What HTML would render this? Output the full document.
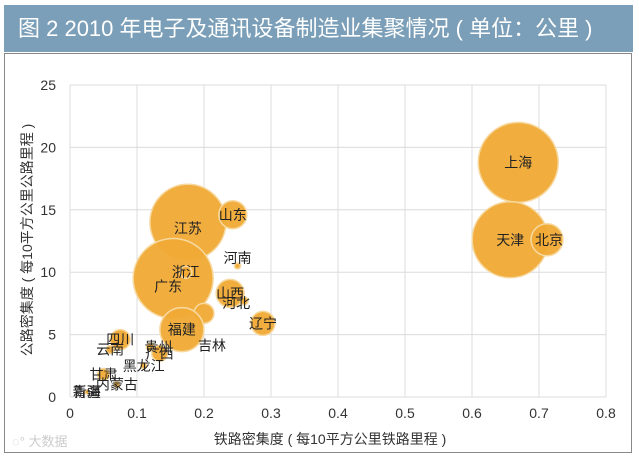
<!DOCTYPE html>
<html><head><meta charset="utf-8"><style>
body{margin:0;width:639px;height:456px;background:#fff;font-family:"Liberation Sans","Noto Sans CJK SC",sans-serif;overflow:hidden}
#hdr{position:absolute;left:4px;top:5px;width:629px;height:47px;background:#7b9fb8;color:#fff;font-size:22px;line-height:47px;padding-left:14px;box-sizing:border-box}
#box{position:absolute;left:4px;top:53px;width:628px;height:400px;border:1px solid #888;box-sizing:border-box}
svg{position:absolute;left:0;top:0}
</style></head><body>
<div id="hdr">图 2  2010 年电子及通讯设备制造业集聚情况 ( 单位：公里 )</div>
<div id="box"></div>
<svg id="c" width="639" height="456"></svg>
<script>
const names=["上海","天津","北京","江苏","广东","浙江","山东","河南","山西","河北","辽宁","吉林","福建","四川","云南","贵州","广西","黑龙江","甘肃","内蒙古","新疆","青海"];
const xs=[0.669,0.657,0.712,0.176,0.154,0.173,0.243,0.25,0.239,0.26,0.288,0.2,0.167,0.075,0.06,0.12,0.134,0.11,0.05,0.07,0.025,0.025];
const ys=[18.8,12.6,12.6,14.0,9.5,10.0,14.6,10.5,8.3,7.7,5.9,6.7,5.4,4.6,3.8,4.0,3.5,2.5,1.8,1.0,0.4,0.4];
const sizes=[40,38,16,38,40,6,14,3,14,4,12,10,22,10,4,4,8,3,6,3,2,2];
const xTicks=[0,0.1,0.2,0.3,0.4,0.5,0.6,0.7,0.8];
const yTicks=[0,5,10,15,20,25];
const lblOff={"江苏":[0,6],"广东":[-5,8],"浙江":[0,0],"河南":[0,-8],"河北":[-8,2],"吉林":[8,32],"云南":[0,0],"贵州":[8,0],"甘肃":[0,0],"内蒙古":[0,0],"青海":[0,0],"北京":[2,0]};
const X=v=>70+v*670, Y=v=>397-v*12.48;
const s=document.getElementById('c'),NS='http://www.w3.org/2000/svg';
function mk(t,a,txt){const e=document.createElementNS(NS,t);for(const k in a)e.setAttribute(k,a[k]);if(txt!=null)e.textContent=txt;s.appendChild(e);return e;}
xTicks.forEach(v=>{const g=mk('line',{x1:X(v),x2:X(v),y1:Y(25),y2:Y(0),stroke:'#dcdcdc'});


const t=mk('text',{x:X(v),y:418,'text-anchor':'middle','font-size':14,fill:'#333'},v);

});
yTicks.forEach(v=>{const g=mk('line',{x1:X(0),x2:X(0.8),y1:Y(v),y2:Y(v),stroke:'#dcdcdc'});


const t=mk('text',{x:56,y:Y(v)+5,'text-anchor':'end','font-size':14,fill:'#333'},v);

});
names.forEach((n,i)=>{const c=mk('circle',{cx:X(xs[i]),cy:Y(ys[i]),r:sizes[i],fill:'#f0aa35',stroke:'#f7d9a0','stroke-width':1.5,'fill-opacity':0.95});

});
names.forEach((n,i)=>{const o=lblOff[n]||[0,0];const t=mk('text',{x:X(xs[i])+o[0],y:Y(ys[i])+o[1]+5,'text-anchor':'middle','font-size':14,fill:'#222'},n);

});
const xt=mk('text',{x:330,y:444,'text-anchor':'middle','font-size':14,fill:'#333'},'铁路密集度 ( 每10平方公里铁路里程 )');


const yt=mk('text',{x:0,y:0,'text-anchor':'middle','font-size':14,fill:'#333',transform:'translate(32,240) rotate(-90)'},'公路密集度 ( 每10平方公里公路里程 )');


const wm=mk('text',{x:12,y:446,'font-size':13,fill:'#ccc'},'◌° 大数据');


</script>
</body></html>
